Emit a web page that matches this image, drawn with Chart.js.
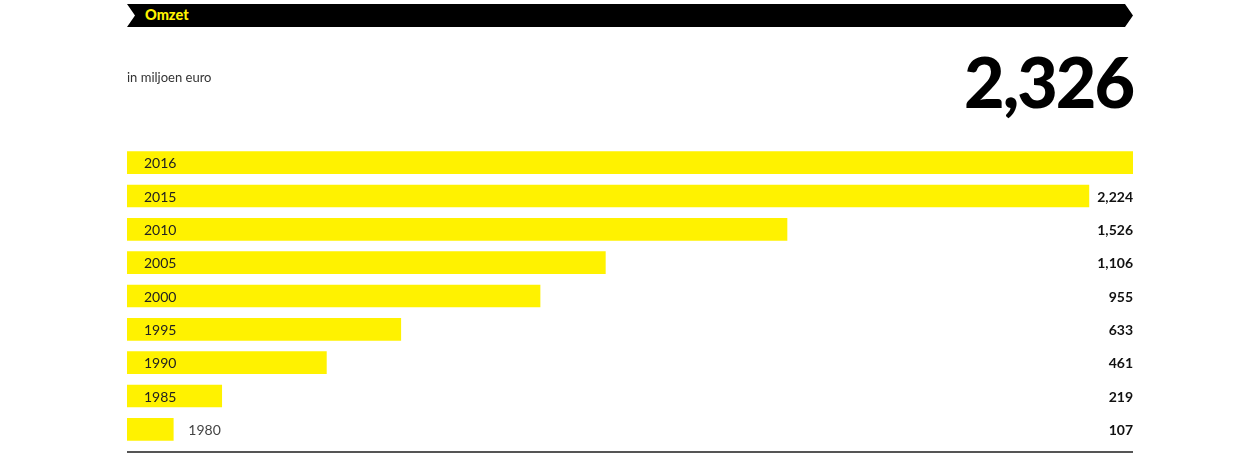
<!DOCTYPE html>
<html>
<head>
<meta charset="utf-8">
<script src="https://cdn.jsdelivr.net/npm/chart.js@4"></script>
<style>
    html, body { margin: 0; padding: 0; background: #fff; }
    #wrap { position: relative; width: 1260px; height: 456px; overflow: hidden; }
    #chart { position: absolute; left: 0; top: 0; }
    .banner {
        position: absolute; left: 127px; top: 4px; width: 1006px; height: 23px;
        background: #000;
        clip-path: polygon(0 0, calc(100% - 8px) 0, 100% 50%, calc(100% - 8px) 100%, 0 100%, 8px 50%);
    }
    .banner span {
        position: absolute; left: 18px; top: 2px;
        font: 900 14.5px Lato, sans-serif; color: #fff200;
    }
    .unit {
        position: absolute; left: 127px; top: 69px;
        font: 13px Lato, sans-serif; color: #333;
    }
    .total {
        position: absolute; right: 127px; top: 39px;
        font: 900 70px Lato, sans-serif; color: #000; letter-spacing: -2px;
    }
</style>
</head>
<body>
<div id="wrap">
    <canvas id="chart" width="1260" height="456"></canvas>
    <div class="banner"><span>Omzet</span></div>
    <div class="unit">in miljoen euro</div>
    <div class="total">2,326</div>
</div>
<script>
const years = ['2016', '2015', '2010', '2005', '2000', '1995', '1990', '1985', '1980'];
const revenue = [2326, 2224, 1526, 1106, 955, 633, 461, 219, 107];

const labelPlugin = {
    id: 'labels',
    afterDatasetsDraw(chart) {
        const ctx = chart.ctx;
        const meta = chart.getDatasetMeta(0);
        const area = chart.chartArea;
        ctx.save();
        ctx.textBaseline = 'middle';
        meta.data.forEach((bar, i) => {
            // year inside the bar, or after it when the bar is too short
            ctx.font = '14px Lato, sans-serif';
            ctx.textAlign = 'left';
            const inside = bar.x - area.left > 60;
            ctx.fillStyle = inside ? '#222' : '#444';
            ctx.fillText(years[i], inside ? area.left + 17 : bar.x + 15, bar.y + 1);
            // value on the right, except the top one (shown big)
            if (i > 0) {
                ctx.font = 'bold 14px Lato, sans-serif';
                ctx.textAlign = 'right';
                ctx.fillStyle = '#111';
                ctx.fillText(revenue[i].toLocaleString('en-US'), area.right, bar.y + 1);
            }
        });
        // bottom rule
        ctx.strokeStyle = '#555';
        ctx.lineWidth = 2;
        ctx.beginPath();
        ctx.moveTo(area.left, area.bottom + 6);
        ctx.lineTo(area.right, area.bottom + 6);
        ctx.stroke();
        ctx.restore();
    }
};

new Chart(document.getElementById('chart').getContext('2d'), {
    type: 'bar',
    data: {
        labels: years,
        datasets: [{
            data: revenue,
            backgroundColor: '#fff200',
            borderWidth: 0,
            barThickness: 22
        }]
    },
    options: {
        indexAxis: 'y',
        responsive: false,
        animation: false,
        layout: {
            padding: { left: 127, right: 127, top: 146, bottom: 10 }
        },
        plugins: {
            legend: { display: false },
            tooltip: { enabled: false }
        },
        scales: {
            x: { display: false, min: 0, max: 2326 },
            y: { display: false }
        }
    },
    plugins: [labelPlugin]
});
</script>
</body>
</html>
